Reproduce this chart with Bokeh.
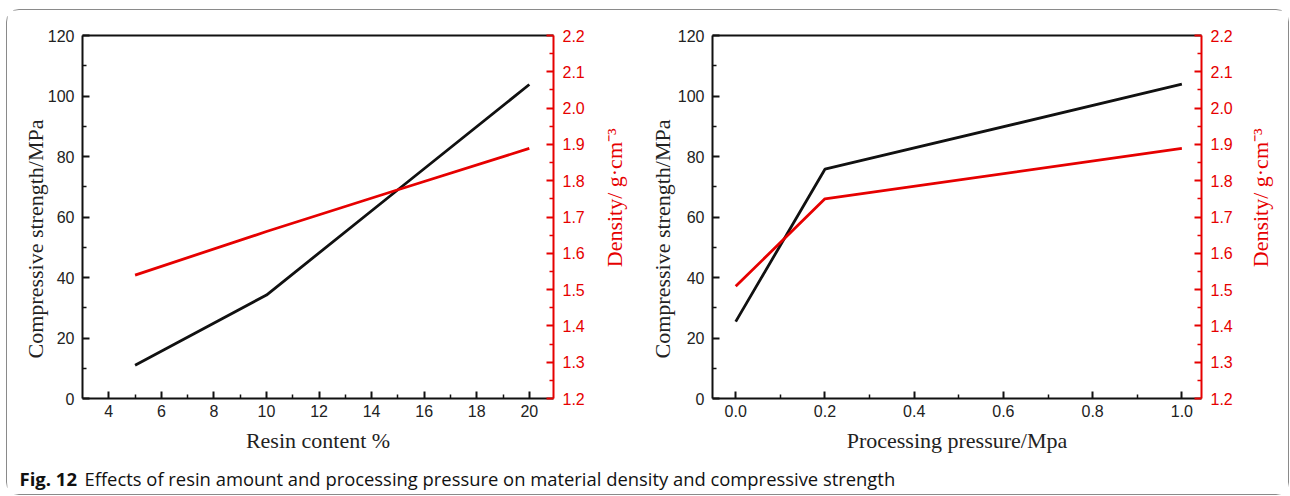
import math
from bokeh.plotting import figure
from bokeh.models import LinearAxis, Range1d, FixedTicker, PrintfTickFormatter
from bokeh.layouts import row, column
from bokeh.core.properties import value
from bokeh.embed import file_html
from bokeh.resources import INLINE

# ---------------- data ----------------
resin_content = [5, 10, 15, 20]
strength_resin = [11.0, 34.2, 69.0, 103.8]
density_resin = [1.540, 1.660, 1.775, 1.889]

pressure = [0.0, 0.2, 1.0]
strength_pressure = [25.4, 75.8, 103.9]
density_pressure = [1.509, 1.750, 1.889]

strength_ticks = [0, 20, 40, 60, 80, 100, 120]
strength_minor = [10, 30, 50, 70, 90, 110]
density_ticks = [1.2, 1.3, 1.4, 1.5, 1.6, 1.7, 1.8, 1.9, 2.0, 2.1, 2.2]
density_minor = [1.25, 1.35, 1.45, 1.55, 1.65, 1.75, 1.85, 1.95, 2.05, 2.15]
resin_ticks = [4, 6, 8, 10, 12, 14, 16, 18, 20]
resin_minor = [5, 7, 9, 11, 13, 15, 17, 19]
pressure_ticks = [0.0, 0.2, 0.4, 0.6, 0.8, 1.0]
pressure_minor = [0.1, 0.3, 0.5, 0.7, 0.9]

y_title = "Compressive strength/MPa" + "\u00a0" * 8
density_title = "Density/ g\u00b7cm\u207b\u00b3"
x_title_left = "Resin content %"
x_title_right = "Processing pressure/Mpa"
caption_bold = "Fig. 12"
caption_text = "Effects of resin amount and processing pressure on material density and compressive strength"

RED = "#e60000"
BLACK = "#111111"
TICK_FONT = "Liberation Sans"
TITLE_FONT = "Liberation Serif"
PANEL_H = 445


def style_axis(ax, color, label_color):
    ax.axis_line_color = color
    ax.axis_line_width = 2
    ax.major_tick_line_color = color
    ax.minor_tick_line_color = color
    ax.major_tick_line_width = 2
    ax.minor_tick_line_width = 1.5
    ax.major_tick_in = 7
    ax.major_tick_out = 0
    ax.minor_tick_in = 4
    ax.minor_tick_out = 0
    ax.major_label_text_font = TICK_FONT
    ax.major_label_text_font_size = "16px"
    ax.major_label_text_color = label_color
    ax.axis_label_text_font = TITLE_FONT
    ax.axis_label_text_font_size = "22px"
    ax.axis_label_text_font_style = "normal"
    ax.axis_label_text_color = label_color


def blank_figure(width, height):
    f = figure(width=width, height=height, output_backend="svg",
               toolbar_location=None, x_range=Range1d(0, width),
               y_range=Range1d(0, height), min_border=0)
    f.axis.visible = False
    f.xgrid.visible = False
    f.ygrid.visible = False
    f.outline_line_color = None
    return f


def make_panel(xs, strength, density, xr, xticks, xminor, xfmt, xtitle,
               width, mb_left, mb_right, ylab_standoff):
    p = figure(width=width, height=PANEL_H, output_backend="svg",
               toolbar_location=None, x_range=Range1d(*xr),
               y_range=Range1d(0, 120),
               min_border_left=mb_left, min_border_right=mb_right,
               min_border_top=25, min_border_bottom=55)
    p.extra_y_ranges = {"dens": Range1d(1.2, 2.2)}
    p.outline_line_color = None
    p.xgrid.visible = False
    p.ygrid.visible = False
    p.background_fill_color = "white"
    p.border_fill_color = "white"

    # left axis
    yax = p.yaxis[0]
    yax.ticker = FixedTicker(ticks=strength_ticks, minor_ticks=strength_minor)
    style_axis(yax, BLACK, "#222222")
    yax.axis_label = y_title
    yax.major_label_standoff = 8
    yax.axis_label_standoff = ylab_standoff

    # bottom axis
    xax = p.xaxis[0]
    xax.ticker = FixedTicker(ticks=xticks, minor_ticks=xminor)
    style_axis(xax, BLACK, "#222222")
    xax.axis_label = xtitle
    xax.major_label_standoff = 6
    xax.axis_label_standoff = 8
    if xfmt is not None:
        xax.formatter = PrintfTickFormatter(format=xfmt)

    # top frame line
    top = LinearAxis(ticker=FixedTicker(ticks=[]), major_label_text_font_size="0px")
    top.axis_line_color = BLACK
    top.axis_line_width = 2
    top.major_tick_in = 0
    top.major_tick_out = 0
    top.minor_tick_in = 0
    top.minor_tick_out = 0
    p.add_layout(top, "above")

    # right density axis
    rax = LinearAxis(y_range_name="dens",
                     ticker=FixedTicker(ticks=density_ticks, minor_ticks=density_minor))
    style_axis(rax, RED, RED)
    rax.major_label_standoff = 9
    rax.formatter = PrintfTickFormatter(format="%.1f")
    p.add_layout(rax, "right")

    p.line(xs, strength, line_color=BLACK, line_width=2.8)
    p.line(xs, density, line_color=RED, line_width=2.8, y_range_name="dens")
    return p


def density_title_strip(width, x_center, y_from_top):
    t = blank_figure(width, PANEL_H)
    t.text(x=[x_center], y=[PANEL_H - y_from_top], text=[density_title],
           angle=math.pi / 2, text_font=value(TITLE_FONT), text_font_size="22px",
           text_color=RED, text_align="center", text_baseline="middle")
    return t


p1 = make_panel(resin_content, strength_resin, density_resin, (3.0, 20.92),
                resin_ticks, resin_minor, None, x_title_left, 586, 75, 40, -3)
t1 = density_title_strip(53, 21, 199)
p2 = make_panel(pressure, strength_pressure, density_pressure, (-0.052, 1.044),
                pressure_ticks, pressure_minor, "%.1f", x_title_right, 595, 61, 40, 0)
t2 = density_title_strip(47, 19, 199)

cap = blank_figure(1281, 39)
cap.text(x=[12], y=[16], text=[caption_bold], text_font=value("Open Sans"),
         text_font_size="18.5px", text_font_style="bold", text_color="#111111",
         text_baseline="middle", text_align="left")
cap.text(x=[77], y=[16], text=[caption_text], text_font=value("Open Sans"),
         text_font_size="18.4px", text_color="#111111",
         text_baseline="middle", text_align="left")

layout = column(row(p1, t1, p2, t2), cap, margin=(9, 0, 0, 6),
                styles={"border": "1px solid #8a8a8a", "border-radius": "13px",
                        "background": "white"})

open("out.html", "w").write(file_html(layout, INLINE))
